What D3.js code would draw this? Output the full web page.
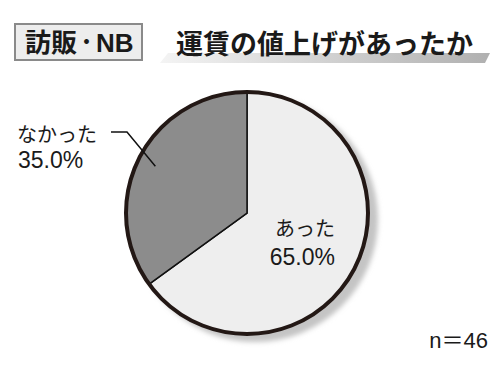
<!DOCTYPE html>
<html>
<head>
<meta charset="utf-8">
<script src="https://cdn.jsdelivr.net/npm/d3@7"></script>
<style>
  body { margin: 0; background: #fff; }
  svg { display: block; font-family: "Liberation Sans", "Noto Sans CJK JP", sans-serif; }
</style>
</head>
<body>
<div id="chart"></div>
<script>
const categories = ["あった", "なかった"];
const values = [65.0, 35.0];
const valueLabels = ["65.0%", "35.0%"];
const sampleText = "n＝46";
const tagParts = ["訪販", "・", "NB"];
const titleText = "運賃の値上げがあったか";

const width = 500, height = 375;
const cx = 247, cy = 213, radius = 121;
const cjk = "'Noto Sans CJK JP', sans-serif";

const svg = d3.select("#chart")
    .append("svg")
    .attr("width", width)
    .attr("height", height);

const defs = svg.append("defs");
defs.append("filter")
    .attr("id", "blur")
    .attr("x", "-20%").attr("y", "-20%")
    .attr("width", "140%").attr("height", "140%")
    .append("feGaussianBlur")
    .attr("stdDeviation", 2.5);

const grad = defs.append("linearGradient")
    .attr("id", "band")
    .attr("x1", "0%").attr("x2", "100%");
grad.append("stop").attr("offset", "0%").attr("stop-color", "#f4f4f4");
grad.append("stop").attr("offset", "100%").attr("stop-color", "#b0b0b0");

// header tag
svg.append("rect")
    .attr("x", 15).attr("y", 24)
    .attr("width", 127).attr("height", 36)
    .attr("fill", "#ededed")
    .attr("stroke", "#8a8a8a")
    .attr("stroke-width", 2);
const tag = svg.append("text")
    .attr("x", 25).attr("y", 52)
    .attr("font-size", 26)
    .attr("font-weight", "bold")
    .attr("fill", "#1a1a1a");
tag.append("tspan").style("font-family", cjk).text(tagParts[0]);
tag.append("tspan").style("font-family", cjk)
    .attr("font-size", 19).attr("dy", -3).text(tagParts[1]);
tag.append("tspan").attr("dy", 3).text(tagParts[2]);

// title band and title
svg.append("path")
    .attr("d", "M168,53 L490,53 L485,63 L160,63 Z")
    .attr("fill", "url(#band)");
svg.append("text")
    .attr("x", 176).attr("y", 54)
    .attr("font-size", 27)
    .attr("font-weight", "bold")
    .attr("fill", "#1a1a1a")
    .style("font-family", cjk)
    .text(titleText);

const color = d3.scaleOrdinal()
    .domain(categories)
    .range(["#eeeeee", "#8c8c8c"]);

const pie = d3.pie().sort(null).value(d => d.value);
const arc = d3.arc().innerRadius(0).outerRadius(radius);

const data = categories.map((c, i) => ({ name: c, value: values[i], label: valueLabels[i] }));
const arcs = pie(data);

const g = svg.append("g")
    .attr("transform", `translate(${cx},${cy})`);

// shadow
g.append("circle")
    .attr("cx", 8).attr("cy", 6)
    .attr("r", radius + 2)
    .attr("fill", "#c4c4c4")
    .attr("filter", "url(#blur)");

g.selectAll("path.slice")
    .data(arcs)
    .enter()
    .append("path")
    .attr("class", "slice")
    .attr("d", arc)
    .attr("fill", d => color(d.data.name))
    .attr("stroke", "#111")
    .attr("stroke-width", 1.5)
    .attr("stroke-linejoin", "miter");

g.append("circle")
    .attr("r", radius)
    .attr("fill", "none")
    .attr("stroke", "#231815")
    .attr("stroke-width", 4);

// inside label for あった
g.append("text")
    .attr("x", 88).attr("y", 23)
    .attr("text-anchor", "end")
    .attr("font-size", 20)
    .attr("fill", "#1a1a1a")
    .style("font-family", cjk)
    .text(arcs[0].data.name);
g.append("text")
    .attr("x", 88).attr("y", 52)
    .attr("text-anchor", "end")
    .attr("font-size", 23)
    .attr("fill", "#1a1a1a")
    .text(arcs[0].data.label);

// outside label for なかった with leader
svg.append("text")
    .attr("x", 17).attr("y", 142)
    .attr("font-size", 20)
    .attr("fill", "#1a1a1a")
    .style("font-family", cjk)
    .text(arcs[1].data.name);
svg.append("text")
    .attr("x", 18).attr("y", 168)
    .attr("font-size", 23)
    .attr("fill", "#1a1a1a")
    .text(arcs[1].data.label);

const inner = d3.arc().innerRadius(radius * 0.85).outerRadius(radius * 0.85).centroid(arcs[1]);
svg.append("polyline")
    .attr("points", `111,132 127,132 ${cx + inner[0]},${cy + inner[1]}`)
    .attr("fill", "none")
    .attr("stroke", "#111")
    .attr("stroke-width", 1.5);

svg.append("text")
    .attr("x", 488).attr("y", 348)
    .attr("text-anchor", "end")
    .attr("font-size", 22)
    .attr("fill", "#1a1a1a")
    .text(sampleText);
</script>
</body>
</html>
